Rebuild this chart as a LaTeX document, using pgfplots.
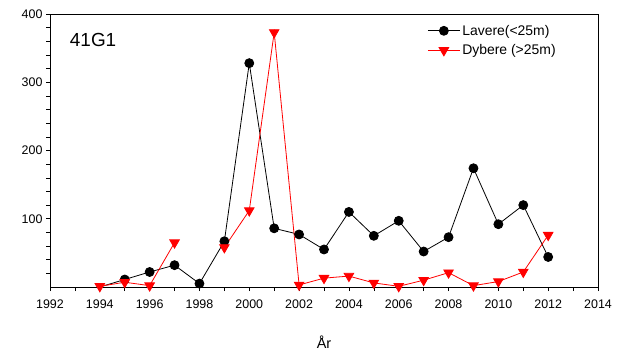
\documentclass[border=0pt]{standalone}
\usepackage{pgfplots}
\pgfplotsset{compat=1.18}
\usepackage{fontspec}
\setmainfont{Liberation Sans}
\begin{document}
\begin{tikzpicture}[x=1bp,y=1bp]
\begin{axis}[
  at={(0,0)}, anchor=south west,
  scale only axis, width=548bp, height=273bp,
  xmin=1992, xmax=2014, ymin=0, ymax=400,
  xtick={1992,1994,...,2014}, minor xtick={1993,1995,...,2013},
  ytick={100,200,300,400}, minor ytick={20,40,...,380},
  xtick pos=left, ytick pos=left,
  tick align=outside,
  major tick length=4bp, minor tick length=4bp,
  every tick/.style={black, line width=0.6bp},
  axis line style={line width=0.8bp},
  x tick label style={/pgf/number format/1000 sep={}, yshift=-5bp},
  /pgf/number format/assume math mode=true,
  tick label style={font=\fontsize{12.5}{14}\selectfont},
  xlabel={År}, xlabel style={font=\fontsize{14.5}{16}\selectfont, yshift=-21bp},
  clip=false,
  unbounded coords=jump,
  legend style={draw=none, fill=none, at={(rel axis cs:0.683,0.975)}, anchor=north west,
    font=\fontsize{14}{15}\selectfont, row sep=4bp},
  legend cell align=left,
  legend image code/.code={\draw[mark repeat=2,mark phase=2,#1] plot coordinates {(0bp,0bp) (16bp,0bp) (32bp,0bp)};},
]
\addplot[black, line width=0.8bp, mark=none, forget plot]
coordinates {(1994,0) (1995,11)};
\addplot[black, line width=0.8bp, mark=*, mark size=4.5bp, mark options={fill=black}]
coordinates {
(1995,11) (1996,22) (1997,32) (1998,5) (1999,67) (2000,328) (2001,86)
(2002,77) (2003,55) (2004,110) (2005,75) (2006,97) (2007,52) (2008,73)
(2009,174) (2010,92) (2011,120) (2012,44)
};
\addlegendentry{Lavere(<25m)}
\addplot[red, line width=0.8bp, mark=triangle*, mark size=5.5bp, mark options={rotate=180, fill=red, draw=red}]
coordinates {
(1994,1) (1995,7) (1996,2) (1997,65) (1998,nan) (1999,58) (2000,112) (2001,373)
(2002,3) (2003,13) (2004,16) (2005,6) (2006,1) (2007,10) (2008,21)
(2009,2) (2010,8) (2011,22) (2012,76)
};
\addlegendentry{Dybere (>25m)}
\node[anchor=west, font=\fontsize{19}{22}\selectfont] at (rel axis cs:0.03,0.905) {41G1};
\end{axis}
\path[use as bounding box] (-50,-69) rectangle (579,287);
\end{tikzpicture}
\end{document}
